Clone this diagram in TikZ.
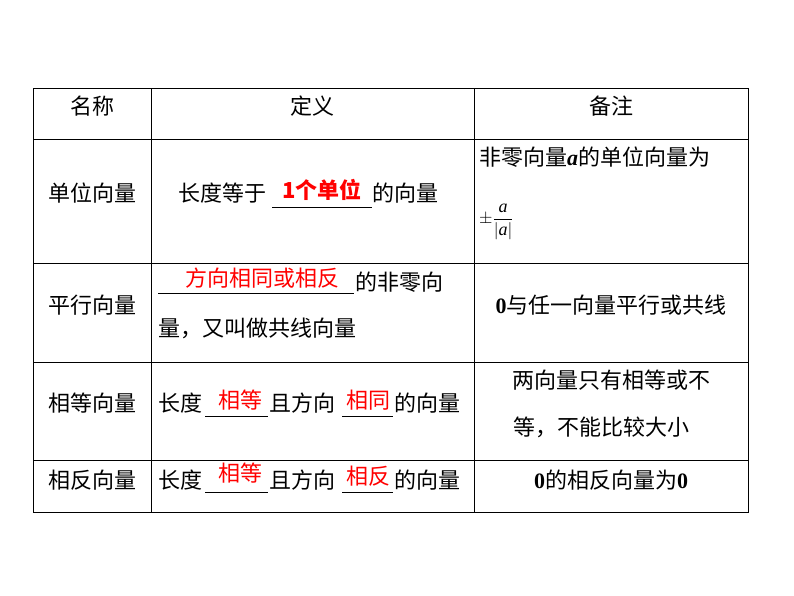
\documentclass[tikz,border=0pt]{standalone}
\usepackage{fontspec}
\setmainfont{Liberation Serif}
\newfontfamily\cjk{Noto Sans CJK SC}
\begin{document}
\begin{tikzpicture}[x=1pt,y=-1pt,
 t/.style={font=\cjk\fontsize{22}{26}\selectfont,inner sep=0pt},
 r/.style={font=\cjk\fontsize{22}{26}\selectfont,text=red,inner sep=0pt},
 ul/.style={line width=0.8pt}]
\useasboundingbox (0,0) rectangle (794,596);
\draw[line width=1pt] (33,89) rectangle (748,512);
\foreach \x in {151,474} \draw[line width=1pt] (\x,89) -- (\x,512);
\foreach \y in {140,263,362,460} \draw[line width=1pt] (33,\y) -- (748,\y);
% header
\node[t] (h1) at (92,106) {名称};
\node[t] (h2) at (312,106) {定义};
\node[t] (h3) at (611,106) {备注};
% row1
\node[t] (n1) at (92,193) {单位向量};
\node[t,anchor=west] (d1a) at (178,193) {长度等于};
\node[t,anchor=west] (d1b) at (372,193) {的向量};
\coordinate (u1a) at (272,207); \coordinate (u1b) at (372,207);
\draw[ul] (u1a) -- (u1b);
\node[r,font=\cjk\bfseries\fontsize{22}{26}\selectfont] (r1) at (322,190) {1个单位};
\node[t,anchor=west] (c1) at (479,157) {非零向量{\rmfamily\bfseries\itshape a}的单位向量为};
\node[inner sep=0pt,anchor=west,font=\fontsize{18}{20}\selectfont] (c1b) at (479,222) {$\pm\displaystyle\frac{\mathbf{\mathit{a}}}{|\mathbf{\mathit{a}}|}$};
% row2
\node[t] (n2) at (92,305) {平行向量};
\coordinate (u2a) at (158,293); \coordinate (u2b) at (354,293);
\draw[ul] (u2a) -- (u2b);
\node[r] (r2) at (262,278) {方向相同或相反};
\node[t,anchor=west] (d2a) at (355,282) {的非零向};
\node[t,anchor=west] (d2b) at (158,328) {量，又叫做共线向量};
\node[t] (c2) at (611,305) {{\rmfamily\bfseries 0}与任一向量平行或共线};
% row3
\node[t] (n3) at (92,403) {相等向量};
\node[t,anchor=west] (d3a) at (158,403) {长度};
\coordinate (u3a) at (205,416); \coordinate (u3b) at (268,416);
\draw[ul] (u3a) -- (u3b);
\node[r] (r3a) at (240,400) {相等};
\node[t,anchor=west] (d3b) at (269,403) {且方向};
\coordinate (u3c) at (342,416); \coordinate (u3d) at (393,416);
\draw[ul] (u3c) -- (u3d);
\node[r] (r3b) at (368,400) {相同};
\node[t,anchor=west] (d3c) at (394,403) {的向量};
\node[t] (c3a) at (611,380) {两向量只有相等或不};
\node[t] (c3b) at (601,427) {等，不能比较大小};
% row4
\node[t] (n4) at (92,480) {相反向量};
\node[t,anchor=west] (d4a) at (158,480) {长度};
\coordinate (u4a) at (205,492); \coordinate (u4b) at (268,492);
\draw[ul] (u4a) -- (u4b);
\node[r] (r4a) at (240,473) {相等};
\node[t,anchor=west] (d4b) at (269,480) {且方向};
\coordinate (u4c) at (342,492); \coordinate (u4d) at (393,492);
\draw[ul] (u4c) -- (u4d);
\node[r] (r4b) at (368,476) {相反};
\node[t,anchor=west] (d4c) at (394,480) {的向量};
\node[t] (c4) at (611,480) {{\rmfamily\bfseries 0}的相反向量为{\rmfamily\bfseries 0}};
\end{tikzpicture}
\end{document}
